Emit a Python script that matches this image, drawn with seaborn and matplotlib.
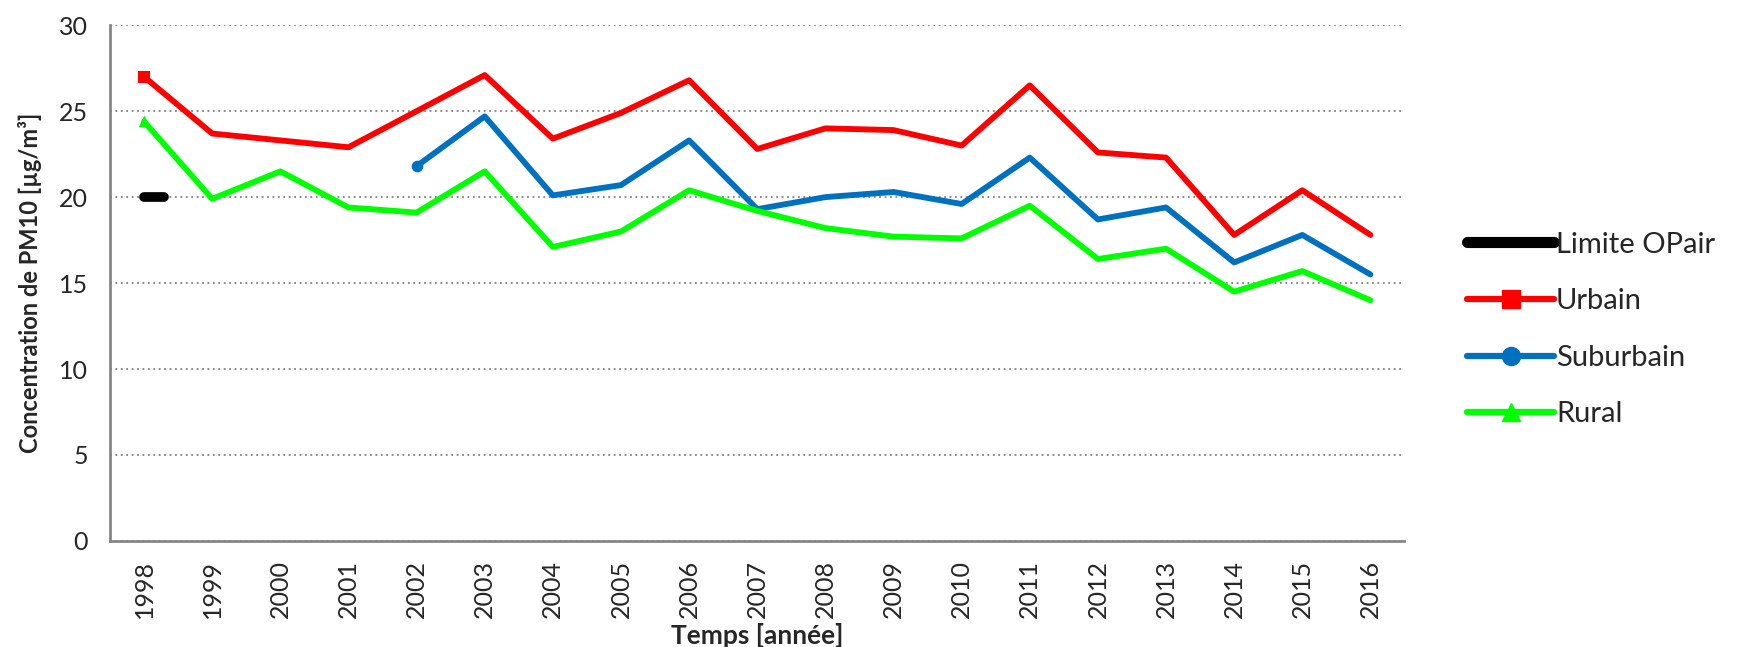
import numpy as np
import pandas as pd
import seaborn as sns
import matplotlib.pyplot as plt
from matplotlib.lines import Line2D
from matplotlib.markers import MarkerStyle

years = [str(y) for y in range(1998, 2017)]
urbain = [27.0, 23.7, 23.3, 22.9, 25.0, 27.1, 23.4, 24.9, 26.8, 22.8,
          24.0, 23.9, 23.0, 26.5, 22.6, 22.3, 17.8, 20.4, 17.8]
suburbain = [np.nan, np.nan, np.nan, np.nan, 21.8, 24.7, 20.1, 20.7, 23.3, 19.3,
             20.0, 20.3, 19.6, 22.3, 18.7, 19.4, 16.2, 17.8, 15.5]
rural = [24.4, 19.9, 21.5, 19.4, 19.1, 21.5, 17.1, 18.0, 20.4, 19.2,
         18.2, 17.7, 17.6, 19.5, 16.4, 17.0, 14.5, 15.7, 14.0]
limite = [20.0] + [np.nan] * 18

series_names = ['Limite OPair', 'Urbain', 'Suburbain', 'Rural']
colors = ['#000000', '#FF0000', '#0070C0', '#00FF00']
markers = [None, 's', 'o', '^']

sns.set_style('white')
plt.rcParams['font.family'] = ['Lato', 'DejaVu Sans']

x = np.arange(len(years))
df = pd.DataFrame({'x': x, 'Urbain': urbain, 'Suburbain': suburbain,
                   'Rural': rural, 'Limite OPair': limite})

fig = plt.figure(figsize=(17.6, 6.47), dpi=100)
ax = fig.add_axes([0.0625, 0.164, 0.7355, 0.797])

for name, col, mk in zip(series_names[1:], colors[1:], markers[1:]):
    sub = df[['x', name]].dropna()
    sns.lineplot(data=sub, x='x', y=name, ax=ax, color=col, linewidth=4.2,
                 legend=False, zorder=3)
    first = sub.iloc[:1]
    sns.scatterplot(data=first, x='x', y=name, ax=ax, color=col, marker=mk,
                    s=70, linewidth=0, legend=False, zorder=4)

# limit value: single point shown as short pill
lim = df[['x', 'Limite OPair']].dropna()
pill = MarkerStyle('_', capstyle='round')
ax.plot(lim['x'] + 0.15, lim['Limite OPair'], linestyle='none', marker=pill,
        markersize=15, markeredgewidth=7, color='black', zorder=4)

ax.set_xlim(-0.5, len(years) - 0.5)
ax.set_ylim(0, 30)
ax.set_yticks(range(0, 31, 5))
ax.set_xticks(x)
ax.set_xticklabels(years, rotation=90)
ax.set_xticks(np.arange(-0.5, len(years), 1), minor=True)
ax.tick_params(axis='x', which='major', length=0, pad=14, labelsize=18)
ax.tick_params(axis='x', which='minor', length=7, width=2, color='#868686')
ax.tick_params(axis='y', length=8, width=2, color='#868686', labelsize=18, pad=8)
ax.yaxis.grid(True, linestyle=(0, (1, 2)), color='#808080', linewidth=1.3)
ax.set_axisbelow(True)
for s in ['top', 'right']:
    ax.spines[s].set_visible(False)
for s in ['left', 'bottom']:
    ax.spines[s].set_color('#868686')
    ax.spines[s].set_linewidth(2)

ax.set_xlabel('Temps [année]', fontsize=19, fontweight='bold', labelpad=3)
ax.set_ylabel('Concentration de PM10 [µg/m³]', fontsize=17, fontweight='bold',
              labelpad=12)

handles = [Line2D([], [], color='black', linewidth=8, solid_capstyle='round')]
for col, mk in zip(colors[1:], markers[1:]):
    handles.append(Line2D([], [], color=col, linewidth=4.5, marker=mk,
                          markersize=13, solid_capstyle='round'))
ax.legend(handles, series_names, loc='center left', bbox_to_anchor=(1.028, 0.41),
          frameon=False, fontsize=21, handlelength=3.0, handletextpad=0.05,
          labelspacing=1.05)

fig.savefig('out.png', dpi=100)
